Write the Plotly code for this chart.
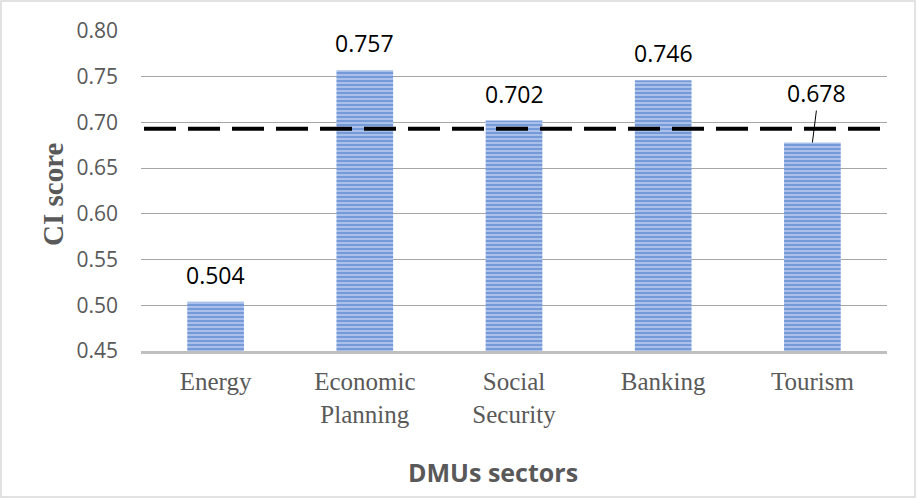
import plotly.graph_objects as go

categories = ["Energy", "Economic<br>Planning", "Social<br>Security", "Banking", "Tourism"]
ci_scores = [0.504, 0.757, 0.702, 0.746, 0.678]
label_texts = ["0.504", "0.757", "0.702", "0.746", "0.678"]
reference_level = 0.693
y_ticks = [0.45, 0.50, 0.55, 0.60, 0.65, 0.70, 0.75, 0.80]
y_tick_labels = ["0.45", "0.50", "0.55", "0.60", "0.65", "0.70", "0.75", "0.80"]

W, H = 917, 499
ML, MR, MT, MB = 141, 30, 31, 148
pw = W - ML - MR
ph = H - MT - MB


def px_x(p):
    return (p - ML) / pw


def px_y(p):
    return (H - MB - p) / ph


fig = go.Figure()
fig.add_trace(go.Bar(
    x=categories,
    y=ci_scores,
    base=0,
    marker=dict(
        color="#9FB8E6",
        line=dict(width=0),
        pattern=dict(shape="-", fgcolor="#4472C4", bgcolor="#A9C0EA", size=4, solidity=0.5),
    ),
    width=0.38,
    hoverinfo="skip",
))

annotations = []
for i, (c, v, t) in enumerate(zip(categories, ci_scores, label_texts)):
    if i == 4:
        annotations.append(dict(
            x=c, y=v, xref="x", yref="y", text=t, showarrow=True,
            arrowhead=0, arrowwidth=1, arrowcolor="#000000",
            ax=4, ay=-32, xanchor="center", yanchor="bottom",
            font=dict(family="Open Sans", size=23, color="#000000"),
            standoff=0,
        ))
    else:
        annotations.append(dict(
            x=c, y=v, xref="x", yref="y", text=t, showarrow=False,
            yshift=27, xanchor="center", yanchor="middle",
            font=dict(family="Open Sans", size=23, color="#000000"),
        ))

annotations.append(dict(
    x=px_x(53), y=px_y(195), xref="paper", yref="paper", text="<b>CI score</b>",
    showarrow=False, textangle=-90, xanchor="center", yanchor="middle",
    font=dict(family="Liberation Serif", size=29, color="#595959"),
))
annotations.append(dict(
    x=px_x(493), y=px_y(472), xref="paper", yref="paper", text="<b>DMUs sectors</b>",
    showarrow=False, xanchor="center", yanchor="middle",
    font=dict(family="Open Sans", size=25, color="#595959"),
))

shapes = [
    dict(type="line", xref="paper", yref="y", x0=px_x(144), x1=px_x(880),
         y0=reference_level, y1=reference_level,
         line=dict(color="#000000", width=4, dash="32px,12px")),
    dict(type="rect", xref="paper", yref="paper", x0=px_x(1), x1=px_x(915),
         y0=px_y(1), y1=px_y(497), line=dict(color="#D9D9D9", width=1.5), layer="below"),
]

fig.update_layout(
    width=W, height=H,
    margin=dict(l=ML, r=MR, t=MT, b=MB),
    paper_bgcolor="#FFFFFF",
    plot_bgcolor="#FFFFFF",
    showlegend=False,
    bargap=0.62,
    annotations=annotations,
    shapes=shapes,
    xaxis=dict(
        showgrid=False,
        showline=True, linecolor="#BFBFBF", linewidth=3,
        tickfont=dict(family="Liberation Serif", size=25, color="#595959"),
        ticks="", ticklabelstandoff=6,
        fixedrange=True,
    ),
    yaxis=dict(
        range=[0.45, 0.80],
        tickvals=y_ticks, ticktext=y_tick_labels,
        showgrid=True, gridcolor="#A6A6A6", gridwidth=1,
        zeroline=False, showline=False,
        tickfont=dict(family="Open Sans", size=21, color="#595959"),
        ticks="", ticklabelstandoff=22,
        fixedrange=True,
    ),
)

fig.write_html("out.html", config={"displayModeBar": False})
